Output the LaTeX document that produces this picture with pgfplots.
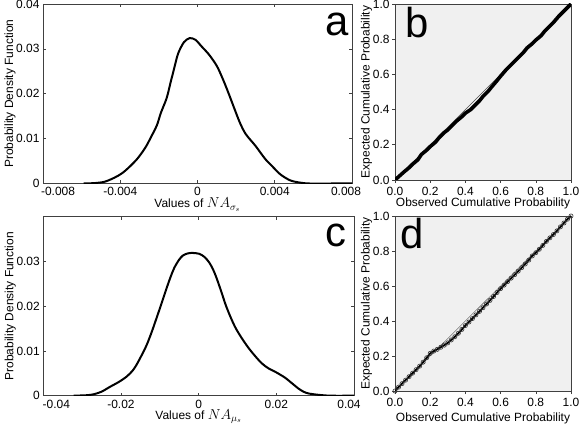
\documentclass[border=0pt]{standalone}
\usepackage{pgfplots}
\pgfplotsset{compat=1.18}
\usepackage{fontspec}
\setmainfont{Liberation Sans}
\definecolor{ppbg}{RGB}{240,240,240}
\tikzset{letter/.style={font=\fontsize{42}{42}\selectfont, anchor=base}}
\begin{document}
\begin{tikzpicture}
\useasboundingbox (0,0) rectangle (582bp,429bp);
\pgfplotsset{
  every axis/.append style={
    font=\fontsize{12}{14}\selectfont,
    /pgf/number format/assume math mode=true,
    scale only axis, anchor=south west, scaled ticks=false,
    axis line style={black!75, line width=0.7pt},
    tick style={black!75, line width=0.6pt},
    major tick length=3bp,
    xticklabel style={yshift=-0.5bp},
  },
  pdfax/.style={
    tick align=inside, tick pos=both,
    ymin=0, ymax=0.04,
    ylabel={Probability Density Function},
    ylabel style={at={(axis description cs:0,0.5)}, anchor=center, rotate=0, yshift=33bp},
    xlabel style={at={(axis description cs:0.5,0)}, anchor=base, yshift=-24.5bp},
  },
  ppax/.style={
    width=176bp, height=176bp,
    xmin=0, xmax=1, ymin=0, ymax=1,
    tick align=outside, xtick pos=bottom, ytick pos=left,
    xtick={0,0.2,0.4,0.6,0.8,1}, ytick={0,0.2,0.4,0.6,0.8,1},
    xticklabels={0.0,0.2,0.4,0.6,0.8,1.0},
    yticklabels={0.0,0.2,0.4,0.6,0.8,1.0},
    axis background/.style={fill=ppbg},
    xlabel={Observed Cumulative Probability},
    ylabel={Expected Cumulative Probability},
    ylabel style={at={(axis description cs:0,0.5)}, anchor=center, yshift=28.5bp},
    xlabel style={at={(axis description cs:0.5,0)}, anchor=base, yshift=-27bp},
    yticklabel style={xshift=1bp},
  },
}

% ---------- panel a ----------
\begin{axis}[pdfax, at={(43bp,245.5bp)}, width=309bp, height=179.5bp,
  xmin=-0.008, xmax=0.008,
  xtick={-0.008,-0.004,0,0.004,0.008},
  xticklabels={{\hspace*{30bp}-0.008},{-0.004},{0},{0.004},{0.008\hspace*{12bp}}},
  ytick={0,0.01,0.02,0.03,0.04},
  yticklabels={0,0.01,0.02,0.03,0.04},
  xlabel={Values of {\fontsize{14.5}{14}\selectfont$NA_{\sigma_s}$}},
]
\addplot[black, line width=2bp, smooth] coordinates {
(-0.0059,0.0000) (-0.0053,0.0001) (-0.0048,0.0004) (-0.0043,0.0013)
(-0.0039,0.0023) (-0.0035,0.0038) (-0.0031,0.0056) (-0.0027,0.0080)
(-0.0024,0.0104) (-0.0021,0.0130) (-0.0019,0.0157) (-0.0016,0.0190)
(-0.0014,0.0224) (-0.0012,0.0258) (-0.0010,0.0290) (-0.0007,0.0315)
(-0.0004,0.0324) (-0.0001,0.0320) (0.0002,0.0306) (0.0006,0.0287)
(0.0010,0.0262) (0.0013,0.0234) (0.0016,0.0202) (0.0019,0.0168)
(0.0022,0.0135) (0.0025,0.0110) (0.0030,0.0084) (0.0035,0.0055)
(0.0039,0.0037) (0.0043,0.0020) (0.0048,0.0007) (0.0053,0.0002)
(0.0058,0.0000) (0.0070,0.0000) (0.0080,0.0000)
};
\node[letter] at (rel axis cs:0.951,0.827) {a};
\end{axis}

% ---------- panel b ----------
\begin{axis}[ppax, at={(395bp,249bp)}]
\addplot[black!70, line width=0.4pt] coordinates {(0,0) (1,1)};
\addplot[black, line width=3.6bp] coordinates {
(0,0) (0.02,0.018) (0.05,0.045) (0.08,0.07) (0.10,0.09) (0.13,0.115)
(0.15,0.145) (0.18,0.17) (0.20,0.19) (0.23,0.215) (0.25,0.24) (0.28,0.27)
(0.30,0.285) (0.33,0.315) (0.35,0.335) (0.38,0.36) (0.40,0.38) (0.43,0.40)
(0.45,0.42) (0.48,0.45) (0.50,0.475) (0.53,0.505) (0.55,0.53) (0.58,0.565)
(0.60,0.59) (0.63,0.625) (0.65,0.645) (0.68,0.675) (0.70,0.695) (0.73,0.725)
(0.75,0.75) (0.78,0.775) (0.80,0.795) (0.83,0.82) (0.85,0.845) (0.88,0.875)
(0.90,0.895) (0.93,0.93) (0.95,0.95) (0.98,0.98) (1,1)
};
\node[letter] at (rel axis cs:0.125,0.807) {b};
\end{axis}

% ---------- panel c ----------
\begin{axis}[pdfax, at={(43.3bp,33.3bp)}, width=310.7bp, height=179bp,
  xmin=-0.04, xmax=0.04,
  xtick={-0.04,-0.02,0,0.02,0.04},
  xticklabels={{\hspace*{26bp}-0.04},{-0.02},{0},{0.02},{0.04\hspace*{10bp}}},
  ytick={0,0.01,0.02,0.03},
  yticklabels={0,0.01,0.02,0.03},
  xlabel={Values of {\fontsize{14.5}{14}\selectfont$NA_{\mu_s}$}},
  xlabel style={yshift=1bp},
]
\addplot[black, line width=2bp, smooth] coordinates {
(-0.0322,0.0000) (-0.0290,0.0001) (-0.0271,0.0003) (-0.0250,0.0009)
(-0.0228,0.0020) (-0.0205,0.0031) (-0.0185,0.0043) (-0.0170,0.0056)
(-0.0160,0.0069) (-0.0147,0.0090) (-0.0134,0.0113) (-0.0121,0.0142)
(-0.0109,0.0172) (-0.0096,0.0205) (-0.0083,0.0239) (-0.0072,0.0266)
(-0.0062,0.0287) (-0.0051,0.0303) (-0.0041,0.0313) (-0.0028,0.0318)
(-0.0015,0.0319) (0.0002,0.0317) (0.0015,0.0310) (0.0027,0.0298)
(0.0036,0.0284) (0.0044,0.0268) (0.0057,0.0236) (0.0070,0.0202)
(0.0083,0.0174) (0.0096,0.0150) (0.0113,0.0126) (0.0130,0.0105)
(0.0147,0.0087) (0.0163,0.0072) (0.0180,0.0061) (0.0198,0.0053)
(0.0210,0.0047) (0.0223,0.0040) (0.0240,0.0028) (0.0257,0.0016)
(0.0270,0.0009) (0.0283,0.0005) (0.0308,0.0002) (0.0340,0.0000)
(0.0400,0.0000)
};
\node[letter] at (rel axis cs:0.942,0.831) {c};
\end{axis}

% ---------- panel d ----------
\begin{axis}[ppax, at={(395bp,38bp)}, height=175bp,
  xlabel style={yshift=-3bp}]
\addplot[black!70, line width=0.4pt] coordinates {(0,0) (1,1)};
\addplot[black, line width=1.8bp, mark=o, mark size=2.1bp,
  mark options={black!80, line width=0.6pt, fill=white}] coordinates {
(0,0) (0.02,0.022) (0.04,0.042) (0.06,0.062) (0.08,0.082) (0.10,0.102)
(0.12,0.122) (0.14,0.142) (0.16,0.165) (0.18,0.19) (0.20,0.215) (0.22,0.228)
(0.24,0.238) (0.26,0.25) (0.28,0.262) (0.30,0.275) (0.32,0.292) (0.34,0.31)
(0.36,0.33) (0.38,0.352) (0.40,0.374) (0.42,0.394) (0.44,0.414) (0.46,0.435)
(0.48,0.455) (0.50,0.476) (0.52,0.497) (0.54,0.518) (0.56,0.54) (0.58,0.563)
(0.60,0.585) (0.62,0.605) (0.64,0.625) (0.66,0.645) (0.68,0.665) (0.70,0.685)
(0.72,0.705) (0.74,0.726) (0.76,0.748) (0.78,0.772) (0.80,0.79) (0.82,0.81)
(0.84,0.832) (0.86,0.855) (0.88,0.875) (0.90,0.894) (0.92,0.915) (0.94,0.938)
(0.96,0.96) (0.98,0.982) (1,1)
};
\node[letter] at (rel axis cs:0.097,0.817) {d};
\end{axis}
\end{tikzpicture}
\end{document}
